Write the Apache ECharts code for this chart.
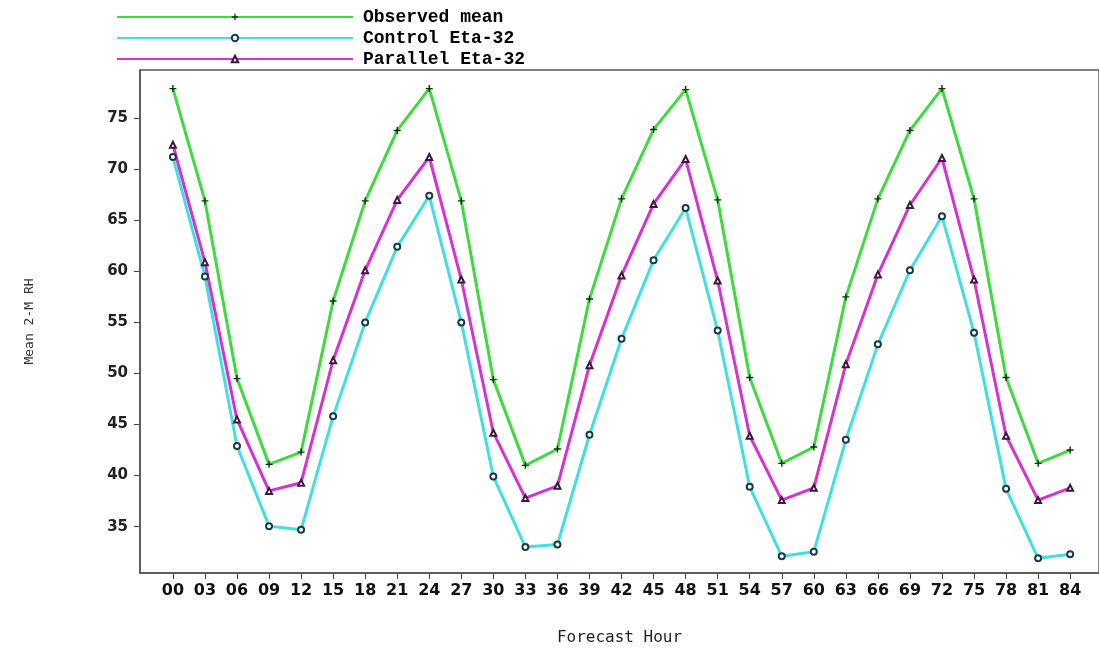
<!DOCTYPE html>
<html>
<head>
<meta charset="utf-8">
<script src="https://cdn.jsdelivr.net/npm/echarts@6/dist/echarts.min.js"></script>
<style>html,body{margin:0;padding:0;background:#fff}#c{width:1099px;height:654px}</style>
</head>
<body>
<div id="c"></div>
<script>
var hours = [0,3,6,9,12,15,18,21,24,27,30,33,36,39,42,45,48,51,54,57,60,63,66,69,72,75,78,81,84];
var hourLabels = ["00","03","06","09","12","15","18","21","24","27","30","33","36","39","42","45","48","51","54","57","60","63","66","69","72","75","78","81","84"];
var yTicks = [35,40,45,50,55,60,65,70,75];
var observedMean = [77.9,66.9,49.5,41.1,42.3,57.1,66.9,73.8,77.9,66.9,49.4,41.0,42.6,57.3,67.1,73.9,77.8,67.0,49.6,41.2,42.8,57.5,67.1,73.8,77.9,67.1,49.6,41.2,42.5];
var controlEta = [71.2,59.5,42.9,35.05,34.7,45.8,55.0,62.4,67.4,55.0,39.9,33.0,33.25,44.0,53.4,61.1,66.2,54.2,38.9,32.1,32.55,43.5,52.85,60.1,65.4,54.0,38.7,31.9,32.3];
var parallelEta = [72.4,60.9,45.5,38.5,39.3,51.3,60.1,67.0,71.2,59.2,44.2,37.8,39.0,50.8,59.6,66.6,71.0,59.1,43.9,37.6,38.8,50.9,59.7,66.5,71.1,59.2,43.9,37.6,38.8];

function pairs(vals){ return hours.map(function(h,i){ return [h, vals[i]]; }); }
var labelMap = {};
hours.forEach(function(h,i){ labelMap[h] = hourLabels[i]; });

var plusPath = 'path://M4,0H6V4H10V6H6V10H4V6H0V4H4Z';
var chart = echarts.init(document.getElementById('c'), null, {renderer:'canvas'});
chart.setOption({
  animation:false,
  backgroundColor:'#fff',
  legend:{
    orient:'vertical', left:116, top:8, padding:0,
    itemWidth:236, itemHeight:8, itemGap:3,
    textStyle:{fontFamily:'Liberation Mono', fontWeight:'bold', fontSize:18, lineHeight:15, color:'#000', padding:[0,0,0,5]},
    data:['Observed mean','Control Eta-32','Parallel Eta-32']
  },
  grid:{left:140, top:70, right:-3, bottom:81, show:true, borderColor:'#555', borderWidth:1.5},
  xAxis:{
    type:'value', min:-3.08, max:86.7,
    name:'Forecast Hour', nameLocation:'middle', nameGap:57,
    nameTextStyle:{fontFamily:'DejaVu Sans Mono', fontSize:16, color:'#222'},
    axisLine:{show:true, onZero:false, lineStyle:{color:'#555', width:1.5}},
    axisTick:{show:true, length:6, customValues:hours, lineStyle:{color:'#444'}},
    axisLabel:{customValues:hours, margin:10, fontFamily:'DejaVu Sans', fontWeight:'bold', fontSize:16, color:'#111',
      formatter:function(v){ return labelMap[v] !== undefined ? labelMap[v] : ''; }},
    splitLine:{show:false}
  },
  yAxis:{
    type:'value', min:30.46, max:79.72,
    name:'Mean 2-M RH', nameLocation:'middle', nameGap:104, nameRotate:90,
    nameTextStyle:{fontFamily:'DejaVu Sans Mono', fontSize:13, color:'#333'},
    axisLine:{show:true, onZero:false, lineStyle:{color:'#555', width:1.5}},
    axisTick:{show:true, length:6, customValues:yTicks, lineStyle:{color:'#444'}},
    axisLabel:{customValues:yTicks, margin:12, fontFamily:'DejaVu Sans', fontWeight:'bold', fontSize:15, color:'#222'},
    splitLine:{show:false}
  },
  series:[
    {name:'Observed mean', type:'line', data:pairs(observedMean), symbol:plusPath, symbolSize:7,
      itemStyle:{color:'#1a2a1a'}, lineStyle:{color:'#3cdc3c', width:3}},
    {name:'Control Eta-32', type:'line', data:pairs(controlEta), symbol:'emptyCircle', symbolSize:6,
      itemStyle:{color:'#1a3a4a', borderWidth:1.5}, lineStyle:{color:'#40e0e0', width:3}},
    {name:'Parallel Eta-32', type:'line', data:pairs(parallelEta), symbol:'emptyTriangle', symbolSize:6,
      itemStyle:{color:'#3a1a3a', borderWidth:1.5}, lineStyle:{color:'#d630d6', width:3}}
  ]
});
</script>
</body>
</html>
